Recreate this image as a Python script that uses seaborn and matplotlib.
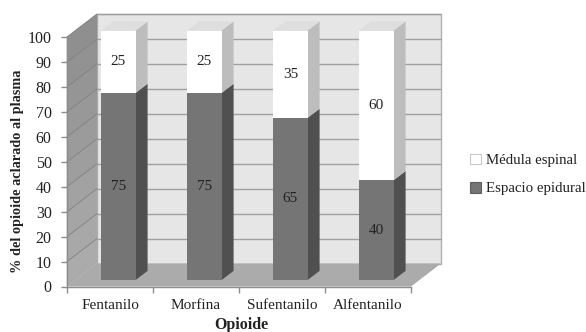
import matplotlib
matplotlib.use("Agg")
import matplotlib.pyplot as plt
import seaborn as sns
import pandas as pd
from matplotlib.patches import Polygon, Patch

categories = ["Fentanilo", "Morfina", "Sufentanilo", "Alfentanilo"]
epidural = [75, 75, 65, 40]
medula = [25, 25, 35, 60]
series_names = ["Médula espinal", "Espacio epidural"]
y_ticks = list(range(0, 101, 10))

W, H = 586, 332
L, R, B, T = 67, 411, 286.5, 37
DX = 30 / (R - L) * 4
DY = 23 / (B - T) * 100
F0, F1 = 0.28, 0.68
BAR_W = 0.40

sns.set_theme(style="white")
plt.rcParams["font.family"] = ["Liberation Serif", "DejaVu Serif"]
fig = plt.figure(figsize=(W / 100, H / 100), dpi=100)
ax = fig.add_axes([L / W, 1 - B / H, (R - L) / W, (B - T) / H])

df = pd.DataFrame({"cat": categories, "ep": epidural, "me": medula})
sns.barplot(data=df, x="cat", y="ep", color="#757575", saturation=1, width=BAR_W,
            ax=ax, zorder=5, linewidth=0)
sns.barplot(data=df, x="cat", y="me", bottom=df["ep"], color="#ffffff", saturation=1,
            width=BAR_W, ax=ax, zorder=5, linewidth=0)
ax.set_xlim(-0.5, 3.5)
ax.set_ylim(0, 100)
bars = list(ax.patches)

def poly(pts, color, z=1, ec="none", lw=0):
    ax.add_patch(Polygon(pts, closed=True, fc=color, ec=ec, lw=lw, zorder=z, clip_on=False))

xl, xr = -0.5, 3.5
# back wall, floor, side wall
poly([(xl + DX, DY), (xr + DX, DY), (xr + DX, 100 + DY), (xl + DX, 100 + DY)], "#e6e6e6", 1, "#b0b0b0", 1)
poly([(xl, 0), (xr, 0), (xr + DX, DY), (xl + DX, DY)], "#ababab", 1.2)
for k, v in enumerate(y_ticks[:-1]):
    g = 0.67 - 0.11 * (k / 9)
    poly([(xl, v), (xl + DX, v + DY), (xl + DX, v + 10 + DY), (xl, v + 10)], (g, g, g), 1.3, (g, g, g), 0.3)
for v in y_ticks[1:]:
    ax.plot([xl + DX, xr + DX], [v + DY, v + DY], color="#a0a0a0", lw=1.0, zorder=1.5, clip_on=False,
            solid_capstyle="butt")
for v in y_ticks[1:]:
    ax.plot([xl, xl + DX], [v, v + DY], color="#808080", lw=0.6, zorder=1.5, clip_on=False)

# shift fronts into depth and add side/top faces
shift_x, shift_y = F0 * DX, F0 * DY
dep_x, dep_y = (F1 - F0) * DX, (F1 - F0) * DY
for i, p in enumerate(bars):
    x0 = p.get_x() + shift_x
    y0 = p.get_y() + shift_y
    w, h = p.get_width(), p.get_height()
    p.set_x(x0)
    p.set_y(y0)
    p.set_clip_on(False)
    lower = i < len(categories)
    side = "#505050" if lower else "#bdbdbd"
    poly([(x0 + w, y0), (x0 + w + dep_x, y0 + dep_y), (x0 + w + dep_x, y0 + h + dep_y), (x0 + w, y0 + h)], side, 4)
    if not lower:
        poly([(x0, y0 + h), (x0 + w, y0 + h), (x0 + w + dep_x, y0 + h + dep_y), (x0 + dep_x, y0 + h + dep_y)],
             "#dedede", 4)
    val = epidural[i] if lower else medula[i - len(categories)]
    ax.text(x0 + w / 2, y0 + h / 2, str(val), ha="center", va="center", fontsize=11, color="#222222", zorder=7)

sns.despine(ax=ax, top=True, right=True)
for s in ("left", "bottom"):
    ax.spines[s].set_color("#8c8c8c")
    ax.spines[s].set_linewidth(1)
    ax.spines[s].set_zorder(6)
ax.set_yticks(y_ticks)
ax.set_xticks([-0.5, 0.5, 1.5, 2.5, 3.5])
ax.set_xticklabels([])
ax.set_xticks(range(4), categories, minor=True)
ax.tick_params(axis="y", which="major", left=True, length=4, width=1, color="#8c8c8c", labelsize=11.5,
               labelcolor="#222222", pad=7)
ax.tick_params(axis="x", which="major", bottom=True, length=4, width=1, color="#8c8c8c")
ax.tick_params(axis="x", which="minor", bottom=False, labelsize=11, labelcolor="#222222", pad=5)
ax.set_xlabel("")
ax.set_ylabel("")
fig.text(241 / W, 1 - 325 / H, "Opioide", ha="center", va="center", fontsize=11.5, fontweight="bold", color="#222222")
fig.text(18 / W, 1 - 171 / H, "% del opioide aclarado al plasma", rotation=90, ha="center", va="center",
         fontsize=10.3, fontweight="bold", color="#222222")

handles = [Patch(fc="#ffffff", ec="#c8c8c8", lw=0.8), Patch(fc="#757575", ec="#606060", lw=0.8)]
fig.legend(handles, series_names, loc="center left", bbox_to_anchor=(470 / W, 1 - 174.5 / H), frameon=False,
           fontsize=10.7, handlelength=0.72, handleheight=0.72, handletextpad=0.35, labelspacing=1.0,
           borderpad=0, borderaxespad=0, labelcolor="#222222")
fig.savefig("out.png", dpi=100, facecolor="white")
